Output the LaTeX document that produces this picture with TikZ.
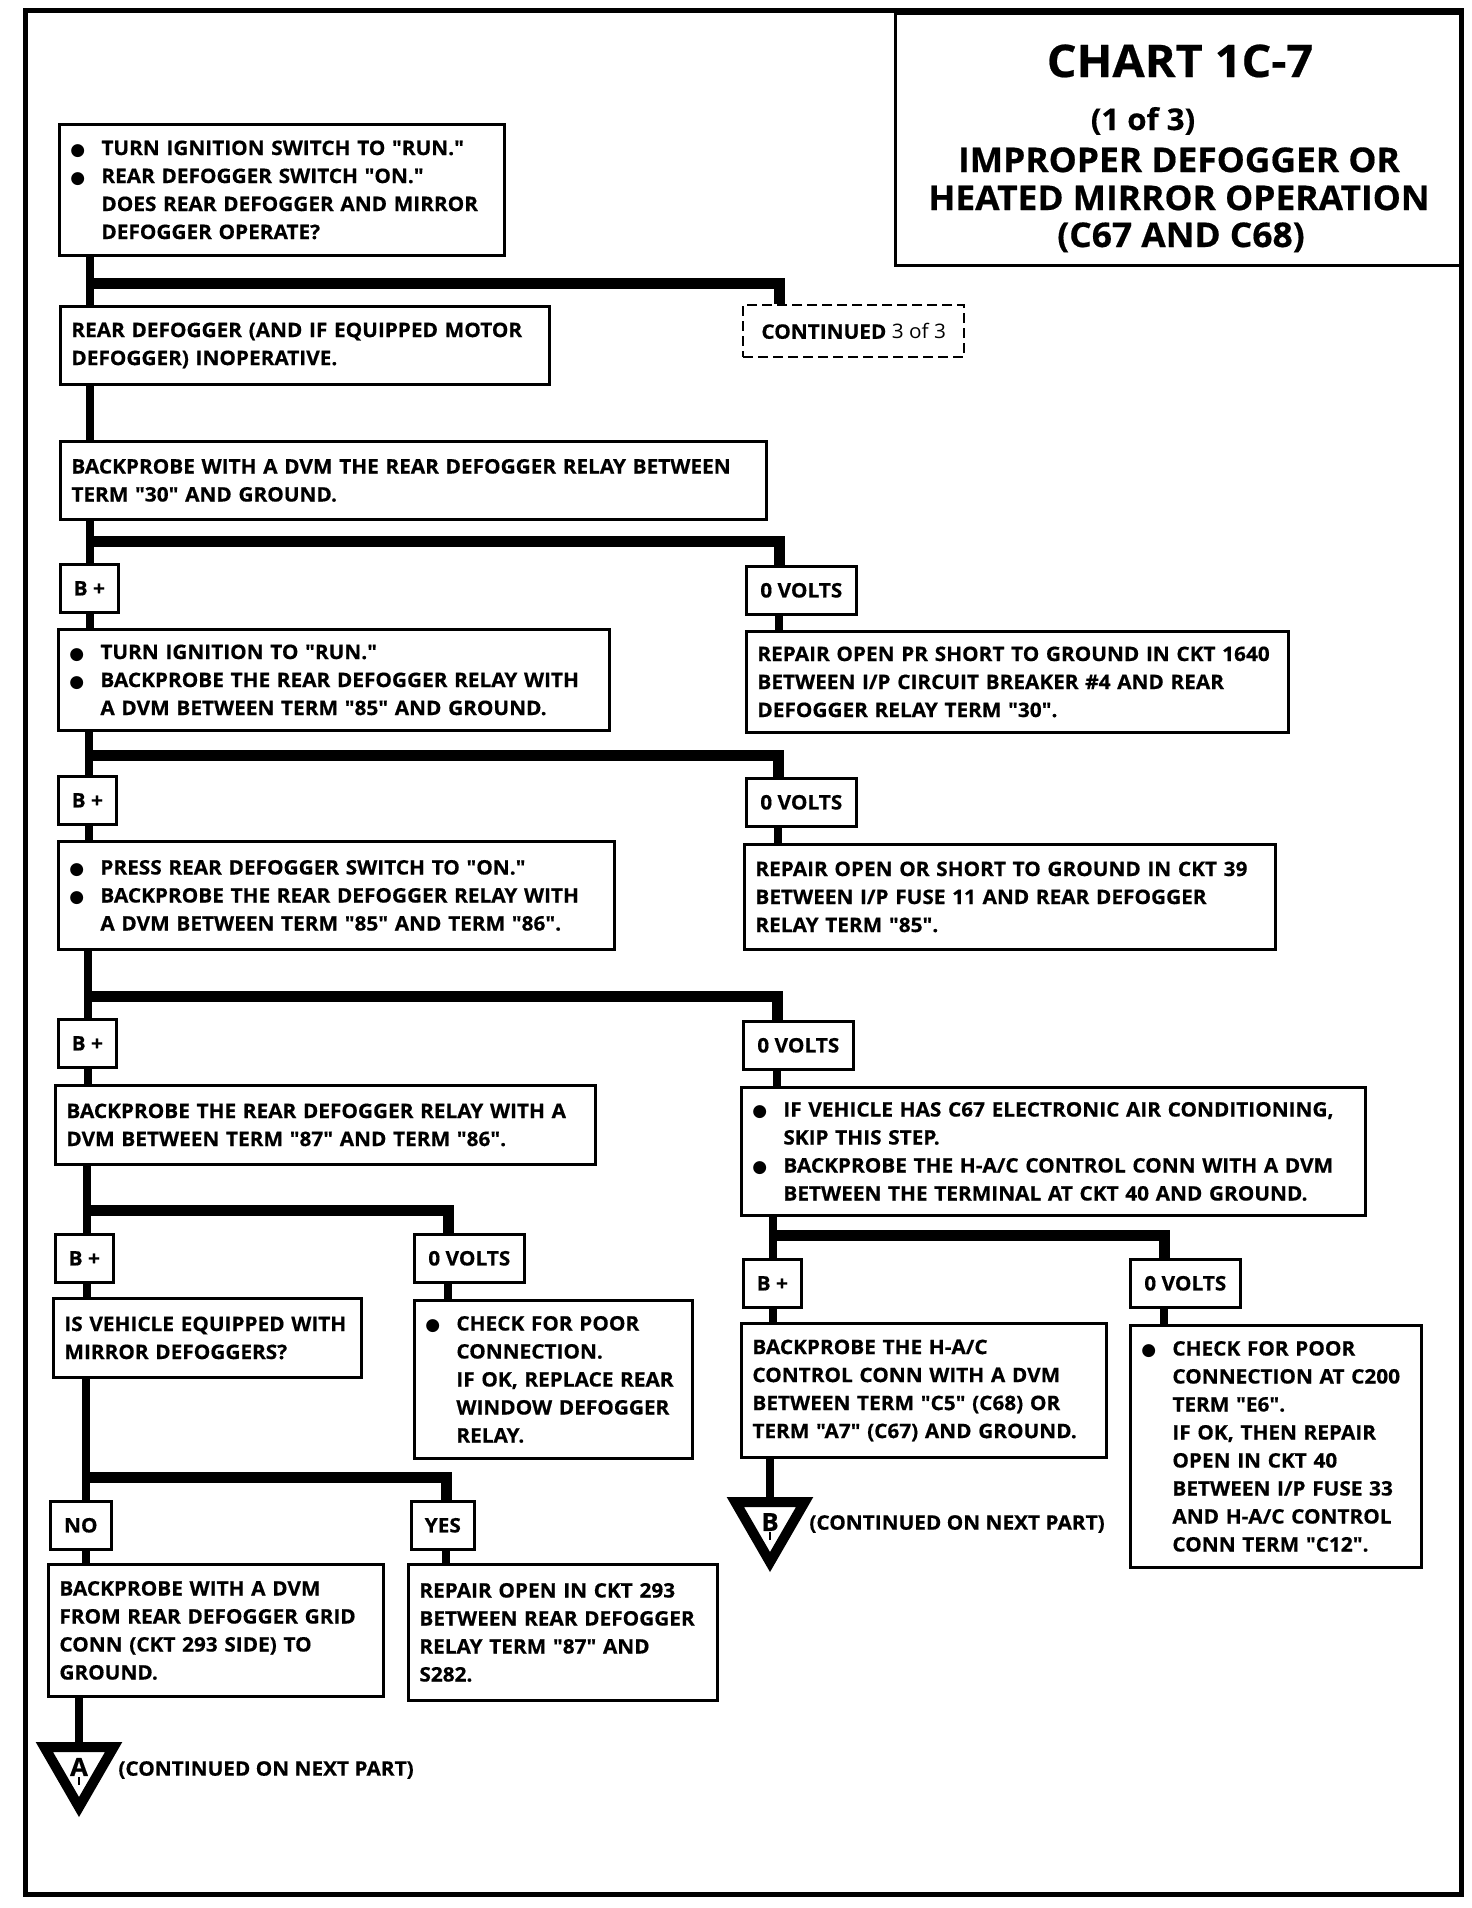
\documentclass[tikz,border=0pt]{standalone}
\usepackage{fontspec}
\newfontfamily\chartfont[FakeStretch=1.04, BoldFeatures={FakeBold=0.5}]{Open Sans}
\newfontfamily\dotfont{DejaVu Sans}
\usetikzlibrary{shapes.geometric}
\pgfdeclarelayer{bg}
\pgfsetlayers{bg,main}
\newcommand\bodyfont{\chartfont\bfseries\fontsize{10}{14}\selectfont}
\newcommand\bul{\makebox[15.5pt][l]{\dotfont\fontsize{8.5}{8.5}\selectfont ●}}
\newcommand\ind{\hspace*{15.5pt}}
\tikzset{
  card/.style={draw, line width=1.4pt, fill=white, anchor=north west,
    align=left, inner xsep=5.5pt, inner ysep=0pt, font=\bodyfont},
  tag/.style={draw, line width=1.3pt, fill=white, anchor=north west,
    inner sep=0pt, minimum height=24pt, font=\bodyfont},
  bplus/.style={tag, minimum width=29pt},
  zerov/.style={tag, minimum width=55pt},
  contbox/.style={draw, dash pattern=on 5pt off 2.5pt, line width=1.2pt,
    fill=white, anchor=north west, inner sep=0pt, font=\bodyfont},
  headline/.style={anchor=base, inner sep=0pt},
  trunk/.style={line width=4pt},
  bar/.style={line width=5.5pt, line join=miter},
  tri/.style={regular polygon, regular polygon sides=3, shape border rotate=180,
    draw, line width=5pt, fill=white, minimum size=40pt, inner sep=0pt,
    font=\chartfont\bfseries\fontsize{12.5}{12.5}\selectfont},
  note/.style={anchor=west, inner sep=0pt, font=\bodyfont}
}
\begin{document}
\begin{tikzpicture}[x=0.5pt, y=-0.5pt]
  \useasboundingbox (0,0) rectangle (1472,1908);
  % outer frame
  \draw[line width=2.5pt] (25,10) rectangle (1461,1894);

  % title block
  \node[draw, line width=1.5pt, anchor=north west, inner sep=0pt,
    minimum width=283.5pt, minimum height=126pt] (title) at (894,12) {};
  \node[headline, font=\chartfont\bfseries\fontsize{22.5}{24}\selectfont] (chart) at (1180,77) {CHART 1C-7};
  \node[headline, font=\chartfont\bfseries\fontsize{15}{16}\selectfont] (part) at (1143,130) {(1 of 3)};
  \node[headline, font=\chartfont\bfseries\fontsize{17}{18}\selectfont] (head1) at (1179,172) {IMPROPER DEFOGGER OR};
  \node[headline, font=\chartfont\bfseries\fontsize{17}{18}\selectfont] (head2) at (1179,210) {HEATED MIRROR OPERATION};
  \node[headline, font=\chartfont\bfseries\fontsize{17}{18}\selectfont] (head3) at (1181,247) {(C67 AND C68)};

  % steps, top to bottom
  \node[card, minimum width=222.5pt, minimum height=65.5pt, text width=211.5pt] (b1) at (58,123)
    {\bul TURN IGNITION SWITCH TO "RUN."\\
     \bul REAR DEFOGGER SWITCH "ON."\\
     \ind DOES REAR DEFOGGER AND MIRROR\\
     \ind DEFOGGER OPERATE?};
  \node[contbox, minimum width=110.5pt, minimum height=26pt] (cont) at (742,304)
    {CONTINUED {\mdseries 3 of 3}};
  \node[card, minimum width=244.5pt, minimum height=39pt, text width=233.5pt] (b2) at (59,305)
    {REAR DEFOGGER (AND IF EQUIPPED MOTOR\\
     DEFOGGER) INOPERATIVE.};
  \node[card, minimum width=353pt, minimum height=39pt, text width=342pt] (b3) at (59,440)
    {BACKPROBE WITH A DVM THE REAR DEFOGGER RELAY BETWEEN\\
     TERM "30" AND GROUND.};

  \node[bplus] (l2) at (59,563) {B +};
  \node[zerov] (rl2) at (745,565) {0 VOLTS};
  \node[card, minimum width=275.5pt, minimum height=50.5pt, text width=264.5pt] (b4) at (57,628)
    {\bul TURN IGNITION TO "RUN."\\
     \bul BACKPROBE THE REAR DEFOGGER RELAY WITH\\
     \ind A DVM BETWEEN TERM "85" AND GROUND.};
  \node[card, minimum width=271pt, minimum height=50.5pt, text width=260pt] (b5) at (745,630)
    {REPAIR OPEN PR SHORT TO GROUND IN CKT 1640\\
     BETWEEN I/P CIRCUIT BREAKER \#4 AND REAR\\
     DEFOGGER RELAY TERM "30".};

  \node[bplus] (l3) at (57,775) {B +};
  \node[zerov] (rl3) at (745,777) {0 VOLTS};
  \node[card, minimum width=278pt, minimum height=54pt, text width=267pt] (b6) at (57,840)
    {\bul PRESS REAR DEFOGGER SWITCH TO "ON."\\
     \bul BACKPROBE THE REAR DEFOGGER RELAY WITH\\
     \ind A DVM BETWEEN TERM "85" AND TERM "86".};
  \node[card, minimum width=265.5pt, minimum height=52.5pt, text width=254.5pt] (b7) at (743,843)
    {REPAIR OPEN OR SHORT TO GROUND IN CKT 39\\
     BETWEEN I/P FUSE 11 AND REAR DEFOGGER\\
     RELAY TERM "85".};

  \node[bplus] (l4) at (57,1018) {B +};
  \node[zerov] (rl4) at (742,1020) {0 VOLTS};
  \node[card, minimum width=270pt, minimum height=39.5pt, text width=259pt] (b8) at (54,1084)
    {BACKPROBE THE REAR DEFOGGER RELAY WITH A\\
     DVM BETWEEN TERM "87" AND TERM "86".};
  \node[card, minimum width=312pt, minimum height=64pt, text width=301pt] (b9) at (740,1086)
    {\bul IF VEHICLE HAS C67 ELECTRONIC AIR CONDITIONING,\\
     \ind SKIP THIS STEP.\\
     \bul BACKPROBE THE H-A/C CONTROL CONN WITH A DVM\\
     \ind BETWEEN THE TERMINAL AT CKT 40 AND GROUND.};

  \node[bplus] (l5) at (54,1233) {B +};
  \node[zerov] (rl5) at (413,1233) {0 VOLTS};
  \node[card, minimum width=154pt, minimum height=39.5pt, text width=143pt] (b10) at (52,1297)
    {IS VEHICLE EQUIPPED WITH\\
     MIRROR DEFOGGERS?};
  \node[card, minimum width=139pt, minimum height=79pt, text width=128pt] (b11) at (413,1299)
    {\bul CHECK FOR POOR\\
     \ind CONNECTION.\\
     \ind IF OK, REPLACE REAR\\
     \ind WINDOW DEFOGGER\\
     \ind RELAY.};

  \node[bplus] (l6) at (742,1258) {B +};
  \node[zerov] (rl6) at (1129,1258) {0 VOLTS};
  \node[card, minimum width=182.5pt, minimum height=67pt, text width=171.5pt] (b12) at (740,1322)
    {BACKPROBE THE H-A/C\\
     CONTROL CONN WITH A DVM\\
     BETWEEN TERM "C5" (C68) OR\\
     TERM "A7" (C67) AND GROUND.};
  \node[card, minimum width=145.5pt, minimum height=121pt, text width=134.5pt] (b13) at (1129,1324)
    {\bul CHECK FOR POOR\\
     \ind CONNECTION AT C200\\
     \ind TERM "E6".\\
     \ind IF OK, THEN REPAIR\\
     \ind OPEN IN CKT 40\\
     \ind BETWEEN I/P FUSE 33\\
     \ind AND H-A/C CONTROL\\
     \ind CONN TERM "C12".};

  \node[bplus, minimum width=30.5pt] (l7) at (49,1500) {NO};
  \node[bplus, minimum width=31.5pt] (rl7) at (410,1500) {YES};
  \node[card, minimum width=167.5pt, minimum height=66pt, text width=156.5pt] (b14) at (47,1563)
    {BACKPROBE WITH A DVM\\
     FROM REAR DEFOGGER GRID\\
     CONN (CKT 293 SIDE) TO\\
     GROUND.};
  \node[card, minimum width=154.5pt, minimum height=68pt, text width=143.5pt] (b15) at (407,1563)
    {REPAIR OPEN IN CKT 293\\
     BETWEEN REAR DEFOGGER\\
     RELAY TERM "87" AND\\
     S282.};

  % off-page connectors
  \node[tri] (ta) at (79,1767) {A};
  \node[note] (na) at (118,1770) {(CONTINUED ON NEXT PART)};
  \node[tri] (tb) at (770,1522) {B};
  \node[note] (nb) at (809,1524) {(CONTINUED ON NEXT PART)};
  \draw[line width=1.2pt] ([yshift=-5pt]ta.center) -- ([yshift=-9pt]ta.center);
  \draw[line width=1.2pt] ([yshift=-5pt]tb.center) -- ([yshift=-9pt]tb.center);

  % split points
  \coordinate (s1) at (90,283);   \coordinate (r1) at (779,283);
  \coordinate (s2) at (90,541);   \coordinate (r2) at (779,541);
  \coordinate (s3) at (89,755);   \coordinate (r3) at (778,755);
  \coordinate (s4) at (88,996);   \coordinate (r4) at (777,996);
  \coordinate (s5) at (87,1210);  \coordinate (r5) at (448,1210);
  \coordinate (s6) at (773,1235); \coordinate (r6) at (1164,1235);
  \coordinate (s7) at (86,1477);  \coordinate (r7) at (446,1477);

  \begin{pgfonlayer}{bg}
    \draw[trunk] (b1.south -| s1) -- (b2.north -| s1);
    \draw[bar] (s1) -- (r1) -- (r1 |- cont.north);
    \draw[trunk] (b2.south -| s1) -- (b3.north -| s1);

    \draw[trunk] (b3.south -| s2) -- (l2.north -| s2);
    \draw[bar] (s2) -- (r2) -- (r2 |- rl2.north);
    \draw[trunk] (l2.south -| s2) -- (b4.north -| s2);
    \draw[trunk] (rl2.south -| r2) -- (b5.north -| r2);

    \draw[trunk] (b4.south -| s3) -- (l3.north -| s3);
    \draw[bar] (s3) -- (r3) -- (r3 |- rl3.north);
    \draw[trunk] (l3.south -| s3) -- (b6.north -| s3);
    \draw[trunk] (rl3.south -| r3) -- (b7.north -| r3);

    \draw[trunk] (b6.south -| s4) -- (l4.north -| s4);
    \draw[bar] (s4) -- (r4) -- (r4 |- rl4.north);
    \draw[trunk] (l4.south -| s4) -- (b8.north -| s4);
    \draw[trunk] (rl4.south -| r4) -- (b9.north -| r4);

    \draw[trunk] (b8.south -| s5) -- (l5.north -| s5);
    \draw[bar] (s5) -- (r5) -- (r5 |- rl5.north);
    \draw[trunk] (l5.south -| s5) -- (b10.north -| s5);
    \draw[trunk] (rl5.south -| r5) -- (b11.north -| r5);

    \draw[trunk] (b9.south -| s6) -- (l6.north -| s6);
    \draw[bar] (s6) -- (r6) -- (r6 |- rl6.north);
    \draw[trunk] (l6.south -| s6) -- (b12.north -| s6);
    \draw[trunk] (rl6.south -| r6) -- (b13.north -| r6);

    \draw[trunk] (b10.south -| s7) -- (l7.north -| s7);
    \draw[bar] (s7) -- (r7) -- (r7 |- rl7.north);
    \draw[trunk] (l7.south -| s7) -- (b14.north -| s7);
    \draw[trunk] (rl7.south -| r7) -- (b15.north -| r7);

    \draw[trunk] (b14.south -| ta) -- (ta.north);
    \draw[trunk] (b12.south -| tb) -- (tb.north);
  \end{pgfonlayer}
\end{tikzpicture}
\end{document}
